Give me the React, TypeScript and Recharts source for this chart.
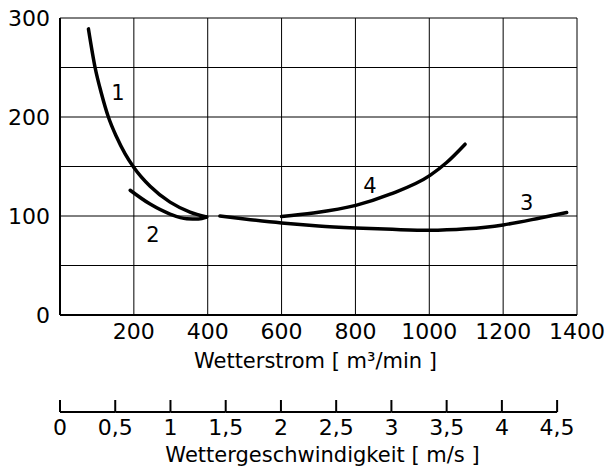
import { LineChart, Line, XAxis, YAxis, CartesianGrid, ReferenceDot } from "recharts";

const FONT = "'DejaVu Sans', sans-serif";

const flowTicks = [0, 200, 400, 600, 800, 1000, 1200, 1400];
const yTicks = [0, 50, 100, 150, 200, 250, 300];
const speedTicks = [0, 0.5, 1, 1.5, 2, 2.5, 3, 3.5, 4, 4.5];
const SPEED_MAX = 4.68;

const curve1 = [
  { q: 77, v: 289 }, { q: 95, v: 250 }, { q: 112, v: 224 }, { q: 131, v: 200 },
  { q: 153, v: 180 }, { q: 176, v: 163 }, { q: 200, v: 149 }, { q: 244, v: 130 },
  { q: 298, v: 114 }, { q: 352, v: 104 }, { q: 397, v: 99 },
];
const curve2 = [
  { q: 190, v: 126 }, { q: 244, v: 112 }, { q: 298, v: 102 }, { q: 343, v: 97.3 },
  { q: 375, v: 97 }, { q: 397, v: 99 },
];
const curve3 = [
  { q: 433, v: 100 }, { q: 500, v: 97 }, { q: 600, v: 93 }, { q: 700, v: 90 },
  { q: 800, v: 88 }, { q: 900, v: 86.5 }, { q: 1000, v: 85.5 }, { q: 1100, v: 87 },
  { q: 1200, v: 91 }, { q: 1300, v: 98 }, { q: 1372, v: 103.5 },
];
const curve4 = [
  { q: 600, v: 99.5 }, { q: 686, v: 103 }, { q: 801, v: 110.7 }, { q: 894, v: 122 },
  { q: 1002, v: 141 }, { q: 1047, v: 154 }, { q: 1097, v: 172.5 },
];

const curveLabels = [
  { name: "1", q: 157, v: 225 },
  { name: "2", q: 252, v: 81 },
  { name: "4", q: 839, v: 131 },
  { name: "3", q: 1264, v: 113.5 },
];

const curves = [curve1, curve2, curve3, curve4];
// anchor data so the speed axis gets a scale
const speedData = speedTicks.map((s) => ({ s, v: null }));

function AxisTitle(props: any) {
  const { viewBox, text, dy, dx = 0 } = props;
  if (!viewBox) return null;
  return (
    <text
      x={viewBox.x + viewBox.width / 2 + dx}
      y={viewBox.y + dy}
      textAnchor="middle"
      fontSize={21}
      fontFamily={FONT}
      fill="#000"
    >
      {text}
    </text>
  );
}

function SpeedTick(props: any) {
  const { x, y, payload, index, width } = props;
  const w = typeof width === "number" ? width : 517;
  const step = (0.5 / SPEED_MAX) * w;
  return (
    <g>
      {index > 0 && <line x1={x - step} y1={y} x2={x} y2={y} stroke="#000" strokeWidth={2} />}
      <line x1={x} y1={y - 12} x2={x} y2={y} stroke="#000" strokeWidth={2} />
      <text x={x} y={y + 23} textAnchor="middle" fontSize={22} fontFamily={FONT} fill="#000">
        {String(payload.value).replace(".", ",")}
      </text>
    </g>
  );
}

export default function App() {
  return (
    <div style={{ position: "absolute", left: 0, top: 0, background: "#fff" }}>
      <LineChart width={609} height={473} margin={{ top: 18, right: 32, left: 0, bottom: 0 }}>
        <CartesianGrid stroke="#000" strokeWidth={1} fill="none" />
        <XAxis
          dataKey="q"
          type="number"
          domain={[0, 1400]}
          ticks={flowTicks}
          tickFormatter={(v: number) => (v === 0 ? "" : String(v))}
          axisLine={{ stroke: "#000", strokeWidth: 2 }}
          tickLine={false}
          tickSize={0}
          tickMargin={8}
          tick={{ fontSize: 22, fontFamily: FONT, fill: "#000" }}
          height={97}
          label={<AxisTitle text="Wetterstrom [ m³/min ]" dy={53} dx={-3} />}
        />
        <XAxis
          xAxisId="speed"
          dataKey="s"
          type="number"
          domain={[0, SPEED_MAX]}
          allowDataOverflow
          ticks={speedTicks}
          interval={0}
          axisLine={false}
          tickLine={false}
          tickSize={0}
          tickMargin={0}
          tick={(p: any) => <SpeedTick {...p} />}
          height={61}
          label={<AxisTitle text="Wettergeschwindigkeit [ m/s ]" dy={50} dx={4} />}
        />
        <YAxis
          type="number"
          domain={[0, 300]}
          ticks={yTicks}
          interval={0}
          tickFormatter={(v: number) => (v % 100 === 0 ? String(v) : "")}
          axisLine={{ stroke: "#000", strokeWidth: 2 }}
          tickLine={false}
          tickSize={0}
          tickMargin={10}
          tick={{ fontSize: 22, fontFamily: FONT, fill: "#000" }}
          width={60}
        />
        <Line
          xAxisId="speed"
          data={speedData}
          dataKey="v"
          stroke="none"
          dot={false}
          activeDot={false}
          legendType="none"
          isAnimationActive={false}
        />
        {curves.map((c, i) => (
          <Line
            key={i}
            data={c}
            dataKey="v"
            type="monotone"
            stroke="#000"
            strokeWidth={3.5}
            strokeLinecap="round"
            dot={false}
            activeDot={false}
            isAnimationActive={false}
          />
        ))}
        {curveLabels.map((l) => (
          <ReferenceDot
            key={l.name}
            x={l.q}
            y={l.v}
            r={0}
            stroke="none"
            fill="none"
            label={{ value: l.name, position: "center", fontSize: 21, fontFamily: FONT, fill: "#000" }}
          />
        ))}
      </LineChart>
    </div>
  );
}
